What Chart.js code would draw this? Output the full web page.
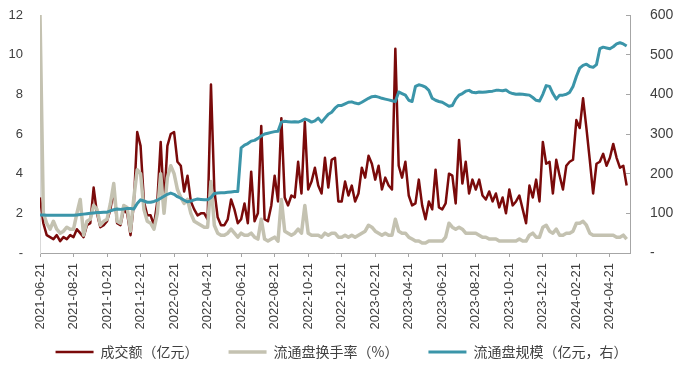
<!DOCTYPE html>
<html>
<head>
<meta charset="utf-8">
<script src="https://cdn.jsdelivr.net/npm/chart.js@4/dist/chart.umd.min.js"></script>
<style>
  html, body { margin: 0; padding: 0; background: #fff; }
  #wrap { width: 700px; height: 369px; }
</style>
</head>
<body>
<div id="wrap"><canvas id="chart" width="700" height="369"></canvas></div>
<script>
// x tick labels, one every two months
const tickLabels = [
    '2021-06-21', '2021-08-21', '2021-10-21', '2021-12-21', '2022-02-21', '2022-04-21',
    '2022-06-21', '2022-08-21', '2022-10-21', '2022-12-21', '2023-02-21', '2023-04-21',
    '2023-06-21', '2023-08-21', '2023-10-21', '2023-12-21', '2024-02-21', '2024-04-21',
];
// samples between two tick labels
const perTick = 10;

// 成交额（亿元）
const turnover = [
    2.8, 1.5, 0.9, 0.8, 0.7, 0.9, 0.6, 0.8, 0.7, 0.9,
    0.8, 1.2, 1.0, 0.8, 1.4, 1.5, 3.3, 2.0, 1.3, 1.4,
    1.6, 2.2, 3.2, 1.5, 1.4, 2.2, 2.0, 0.9, 2.5, 6.1,
    5.4, 2.6, 1.9, 1.9, 1.4, 2.6, 5.6, 2.4, 5.4, 6.0,
    6.1, 4.6, 4.4, 3.1, 3.9, 2.6, 2.2, 1.9, 2.0, 2.0,
    1.7, 8.5, 3.2, 1.8, 1.4, 1.4, 1.7, 2.7, 2.2, 1.5,
    1.7, 2.5, 1.5, 4.1, 1.6, 2.0, 6.4, 1.7, 1.6, 2.4,
    3.9, 2.6, 6.8, 2.8, 2.4, 2.9, 2.8, 4.6, 3.0, 6.6,
    3.2, 3.6, 4.3, 3.4, 3.0, 4.8, 3.3, 4.7, 4.8, 2.6,
    2.6, 3.6, 2.9, 3.4, 2.6, 3.0, 4.3, 3.8, 4.9, 4.5,
    3.7, 4.4, 3.2, 3.8, 3.4, 3.2, 10.3, 4.4, 3.8, 4.6,
    2.9, 2.4, 2.5, 3.7, 2.4, 1.7, 2.6, 2.2, 4.2, 2.3,
    2.2, 2.5, 4.0, 3.9, 2.5, 5.7, 3.5, 4.6, 3.0, 3.7,
    3.2, 3.7, 2.9, 2.7, 3.1, 2.6, 3.0, 2.3, 2.8, 2.0,
    3.2, 2.4, 2.6, 2.9, 2.2, 1.5, 3.4, 2.8, 3.7, 2.6,
    5.6, 4.5, 4.6, 3.0, 4.7, 3.9, 3.2, 4.4, 4.6, 4.7,
    6.7, 6.3, 7.8, 6.3, 4.7, 3.0, 4.5, 4.6, 5.0, 4.4,
    4.8, 5.5, 4.8, 4.3, 4.4, 3.4,
];

// 流通盘换手率（%）
const turnoverRate = [
    12, 2.0, 1.5, 1.2, 1.6, 1.2, 1.0, 1.1, 1.3, 1.2,
    1.2, 2.0, 2.7, 0.9, 1.6, 1.7, 2.4, 2.2, 1.4, 1.6,
    1.7, 2.5, 3.5, 1.6, 1.5, 2.4, 2.3, 1.1, 2.8, 4.2,
    4.0, 2.2, 1.6, 1.5, 1.2, 2.0, 4.0, 2.0, 3.8, 4.4,
    4.0, 3.2, 2.8, 2.5, 2.7, 2.0, 1.6, 1.5, 1.4, 1.3,
    1.3, 3.6, 1.4, 1.0, 0.9, 0.9, 1.0, 1.2, 1.0, 0.8,
    1.0, 0.9, 0.9, 1.0, 0.8, 0.7, 1.7, 0.7, 0.6, 0.7,
    0.8, 0.6, 2.7, 1.1, 1.0, 0.9, 1.0, 1.2, 1.0, 2.4,
    1.0, 0.9, 0.9, 0.9, 0.8, 1.0, 0.9, 1.0, 1.0, 0.8,
    0.8, 0.9, 0.8, 0.9, 0.8, 0.9, 1.0, 1.1, 1.4, 1.3,
    1.1, 1.0, 0.9, 1.0, 0.9, 0.9, 1.7, 1.1, 1.0, 1.0,
    0.8, 0.7, 0.6, 0.6, 0.5, 0.5, 0.6, 0.6, 0.6, 0.6,
    0.6, 0.8, 1.5, 1.3, 1.2, 1.3, 1.2, 1.0, 1.0, 1.0,
    1.0, 0.9, 0.8, 0.8, 0.7, 0.7, 0.7, 0.6, 0.6, 0.6,
    0.6, 0.6, 0.6, 0.7, 0.6, 0.6, 0.9, 1.0, 0.8, 0.8,
    1.3, 1.4, 1.1, 1.0, 1.2, 0.9, 0.9, 1.0, 1.0, 1.1,
    1.5, 1.5, 1.6, 1.4, 1.0, 0.9, 0.9, 0.9, 0.9, 0.9,
    0.9, 0.9, 0.8, 0.8, 0.9, 0.7,
];

// 流通盘规模（亿元，右）
const floatSize = [
    96, 96, 95, 95, 95, 95, 95, 95, 95, 95,
    95, 96, 97, 98, 99, 100, 101, 102, 102, 103,
    103, 106, 109, 111, 110, 111, 112, 112, 111, 125,
    134, 131, 128, 128, 130, 133, 138, 143, 148, 151,
    148, 142, 138, 133, 129, 131, 134, 136, 135, 134,
    134, 140, 150, 151, 152, 152, 153, 154, 155, 155,
    265, 272, 276, 282, 284, 289, 295, 300, 302, 304,
    306, 307, 330, 332, 331, 330, 331, 330, 333, 338,
    335, 330, 333, 340, 330, 340, 350, 355, 365, 372,
    372, 376, 380, 381, 378, 376, 380, 385, 390, 394,
    395, 393, 390, 388, 386, 384, 382, 406, 402, 398,
    385, 382, 420, 424, 422, 418, 410, 390, 385, 382,
    380, 375, 370, 372, 388, 398, 402, 408, 410, 405,
    404, 406, 405, 406, 407, 408, 410, 410, 409, 411,
    405, 402, 400, 401, 400, 399, 398, 392, 385, 383,
    400, 422, 420, 402, 388, 398, 398, 400, 405, 420,
    445, 466, 473, 476, 470, 468, 475, 515, 519, 517,
    515, 520, 527, 530, 527, 522,
];

const toPoints = (values) => values.map((v, i) => ({ x: i / perTick, y: v }));
const zeroDash = (v) => (v === 0 ? '-' : v);
// keep the y axes from pushing the plot top down
const fixYAxis = (width) => (scale) => {
    scale.width = width;
    scale.paddingTop = 8;
    scale.paddingBottom = 8;
};

Chart.defaults.font.family = '"Liberation Sans", Arial, sans-serif';
Chart.defaults.color = '#404040';

new Chart(document.getElementById('chart'), {
    type: 'line',
    data: {
        datasets: [
            {
                label: '成交额（亿元）',
                data: toPoints(turnover),
                borderColor: '#7A0A0A',
                backgroundColor: '#7A0A0A',
                borderWidth: 2.5,
                yAxisID: 'y',
                order: 2,
            },
            {
                label: '流通盘换手率（%）',
                data: toPoints(turnoverRate),
                borderColor: '#C4C2B1',
                backgroundColor: '#C4C2B1',
                borderWidth: 3.5,
                yAxisID: 'y',
                order: 1,
            },
            {
                label: '流通盘规模（亿元，右）',
                data: toPoints(floatSize),
                borderColor: '#3B95A9',
                backgroundColor: '#3B95A9',
                borderWidth: 3,
                yAxisID: 'y1',
                order: 0,
            },
        ],
    },
    options: {
        responsive: false,
        animation: false,
        layout: { padding: { top: 15, left: 0, right: 17, bottom: 0 } },
        elements: {
            point: { radius: 0 },
            line: { tension: 0, borderJoinStyle: 'round' },
        },
        plugins: {
            tooltip: { enabled: false },
            legend: {
                position: 'bottom',
                labels: {
                    usePointStyle: true,
                    pointStyle: 'line',
                    pointStyleWidth: 38,
                    padding: 30,
                    color: '#404040',
                    font: { family: '"Noto Sans CJK SC", sans-serif', size: 14 },
                    sort: (a, b) => a.datasetIndex - b.datasetIndex,
                },
            },
        },
        scales: {
            x: {
                type: 'linear',
                min: 0,
                max: 17.6,
                afterBuildTicks: (scale) => {
                    scale.ticks = tickLabels.map((_, i) => ({ value: i }));
                },
                afterFit: (scale) => {
                    scale.height = 62;
                    // rotated labels run past the short axis box, so don't clip them
                    scale._computeLabelArea = () => null;
                },
                grid: { drawOnChartArea: false, drawTicks: true, tickLength: 4, color: '#A6A6A6' },
                border: { color: '#A6A6A6' },
                ticks: {
                    autoSkip: false,
                    minRotation: 90,
                    maxRotation: 90,
                    padding: 6,
                    font: { size: 13 },
                    color: '#404040',
                    callback: (v) => tickLabels[Math.round(v)] ?? '',
                },
            },
            y: {
                position: 'left',
                min: 0,
                max: 12,
                afterFit: fixYAxis(40),
                grid: { display: true, drawOnChartArea: false, drawTicks: false },
                border: { color: '#D9D9D9' },
                ticks: { stepSize: 2, padding: 17, font: { size: 13 }, callback: zeroDash },
            },
            y1: {
                position: 'right',
                min: 0,
                max: 600,
                afterFit: fixYAxis(53),
                grid: { drawOnChartArea: false, drawTicks: true, tickLength: -4, color: '#A6A6A6' },
                border: { color: '#A6A6A6' },
                ticks: { stepSize: 100, padding: 24, font: { size: 14 }, callback: zeroDash },
            },
        },
    },
});
</script>
</body>
</html>
